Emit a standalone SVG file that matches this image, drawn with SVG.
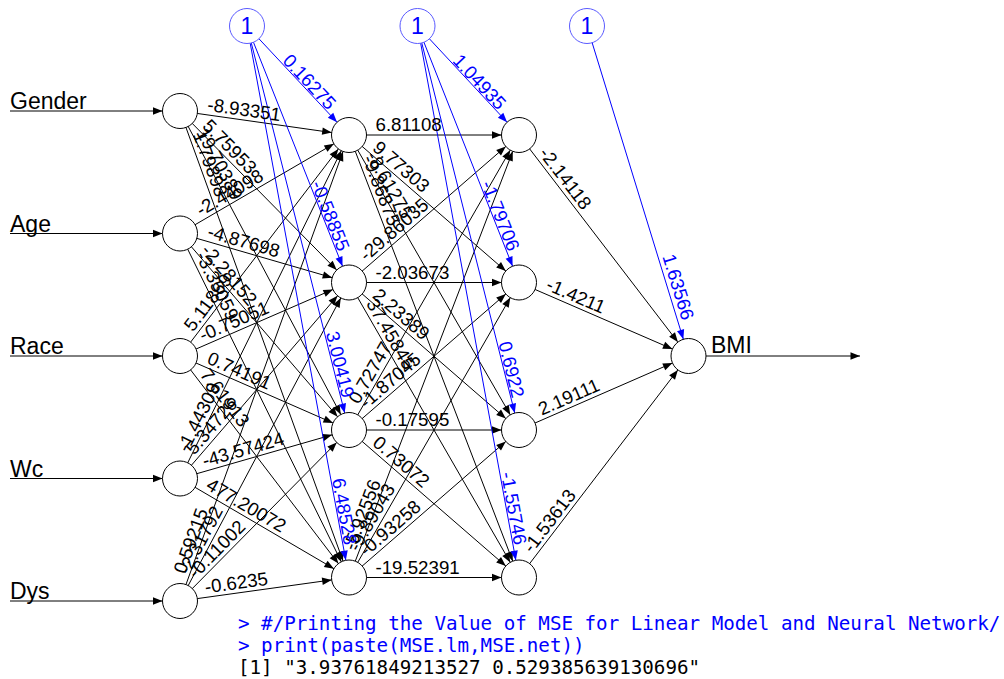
<svg xmlns="http://www.w3.org/2000/svg" width="1004" height="679" viewBox="0 0 1004 679">
<style>
.n{fill:#fff;stroke:#000;stroke-width:1}
.bn{fill:#fff;stroke:#5a5aff;stroke-width:1}
.e{stroke:#000;stroke-width:1;fill:none;marker-end:url(#ah)}
.eb{stroke:#0000ff;stroke-width:1;fill:none;marker-end:url(#ahb)}
.io{stroke:#000;stroke-width:1;fill:none;marker-end:url(#ah0)}
.w{font-family:"Liberation Sans",Arial,sans-serif;font-size:18.7px;fill:#000}
.wb{font-family:"Liberation Sans",Arial,sans-serif;font-size:18.7px;fill:#0000ff;text-anchor:end}
.lb{font-family:"Liberation Sans",Arial,sans-serif;font-size:23px;fill:#000}
.one{font-family:"Liberation Sans",Arial,sans-serif;font-size:23px;fill:#0000ff;text-anchor:middle}
.con{font-family:"DejaVu Sans Mono",monospace;font-size:19.2px}
</style>
<defs>
<marker id="ah" markerUnits="userSpaceOnUse" orient="auto" viewBox="-30 -6 32 12" markerWidth="32" markerHeight="12" refX="0" refY="0"><path d="M-27,-3.7 L-17.5,0 L-27,3.7 z" fill="#000"/></marker>
<marker id="ahb" markerUnits="userSpaceOnUse" orient="auto" viewBox="-30 -6 32 12" markerWidth="32" markerHeight="12" refX="0" refY="0"><path d="M-27,-3.7 L-17.5,0 L-27,3.7 z" fill="#0000ff"/></marker>
<marker id="ah0" markerUnits="userSpaceOnUse" orient="auto" viewBox="-11 -6 12 12" markerWidth="12" markerHeight="12" refX="0" refY="0"><path d="M-9.5,-3.7 L0,0 L-9.5,3.7 z" fill="#000"/></marker>
</defs>
<rect width="1004" height="679" fill="#fff"/>
<g id="connectors">
<line class="io" x1="10" y1="111" x2="162.5" y2="111"/>
<line class="io" x1="10" y1="233.5" x2="162.5" y2="233.5"/>
<line class="io" x1="10" y1="356" x2="162.5" y2="356"/>
<line class="io" x1="10" y1="478.5" x2="162.5" y2="478.5"/>
<line class="io" x1="10" y1="601" x2="162.5" y2="601"/>
<line class="io" x1="706" y1="356" x2="860" y2="356"/>
<g id="input-hidden1">
<line class="e" x1="180" y1="111" x2="349" y2="135"/>
<line class="e" x1="180" y1="111" x2="349" y2="282.5"/>
<line class="e" x1="180" y1="111" x2="349" y2="430"/>
<line class="e" x1="180" y1="111" x2="349" y2="577.5"/>
<line class="e" x1="180" y1="233.5" x2="349" y2="135"/>
<line class="e" x1="180" y1="233.5" x2="349" y2="282.5"/>
<line class="e" x1="180" y1="233.5" x2="349" y2="430"/>
<line class="e" x1="180" y1="233.5" x2="349" y2="577.5"/>
<line class="e" x1="180" y1="356" x2="349" y2="135"/>
<line class="e" x1="180" y1="356" x2="349" y2="282.5"/>
<line class="e" x1="180" y1="356" x2="349" y2="430"/>
<line class="e" x1="180" y1="356" x2="349" y2="577.5"/>
<line class="e" x1="180" y1="478.5" x2="349" y2="135"/>
<line class="e" x1="180" y1="478.5" x2="349" y2="282.5"/>
<line class="e" x1="180" y1="478.5" x2="349" y2="430"/>
<line class="e" x1="180" y1="478.5" x2="349" y2="577.5"/>
<line class="e" x1="180" y1="601" x2="349" y2="135"/>
<line class="e" x1="180" y1="601" x2="349" y2="282.5"/>
<line class="e" x1="180" y1="601" x2="349" y2="430"/>
<line class="e" x1="180" y1="601" x2="349" y2="577.5"/>
</g>
<g id="hidden1-hidden2">
<line class="e" x1="349" y1="135" x2="519" y2="135"/>
<line class="e" x1="349" y1="135" x2="519" y2="282.5"/>
<line class="e" x1="349" y1="135" x2="519" y2="430"/>
<line class="e" x1="349" y1="135" x2="519" y2="577.5"/>
<line class="e" x1="349" y1="282.5" x2="519" y2="135"/>
<line class="e" x1="349" y1="282.5" x2="519" y2="282.5"/>
<line class="e" x1="349" y1="282.5" x2="519" y2="430"/>
<line class="e" x1="349" y1="282.5" x2="519" y2="577.5"/>
<line class="e" x1="349" y1="430" x2="519" y2="135"/>
<line class="e" x1="349" y1="430" x2="519" y2="282.5"/>
<line class="e" x1="349" y1="430" x2="519" y2="430"/>
<line class="e" x1="349" y1="430" x2="519" y2="577.5"/>
<line class="e" x1="349" y1="577.5" x2="519" y2="135"/>
<line class="e" x1="349" y1="577.5" x2="519" y2="282.5"/>
<line class="e" x1="349" y1="577.5" x2="519" y2="430"/>
<line class="e" x1="349" y1="577.5" x2="519" y2="577.5"/>
</g>
<g id="hidden2-output">
<line class="e" x1="519" y1="135" x2="688.5" y2="356"/>
<line class="e" x1="519" y1="282.5" x2="688.5" y2="356"/>
<line class="e" x1="519" y1="430" x2="688.5" y2="356"/>
<line class="e" x1="519" y1="577.5" x2="688.5" y2="356"/>
</g>
<g id="bias-edges">
<line class="eb" x1="247" y1="26" x2="349" y2="135"/>
<line class="eb" x1="247" y1="26" x2="349" y2="282.5"/>
<line class="eb" x1="247" y1="26" x2="349" y2="430"/>
<line class="eb" x1="247" y1="26" x2="349" y2="577.5"/>
<line class="eb" x1="417.5" y1="26" x2="519" y2="135"/>
<line class="eb" x1="417.5" y1="26" x2="519" y2="282.5"/>
<line class="eb" x1="417.5" y1="26" x2="519" y2="430"/>
<line class="eb" x1="417.5" y1="26" x2="519" y2="577.5"/>
<line class="eb" x1="587" y1="26" x2="688.5" y2="356"/>
</g>
<g id="weight-labels">
<text class="w" transform="translate(206.2,114.7) rotate(8.08)" y="-4">-8.93351</text>
<text class="w" transform="translate(198.6,129.9) rotate(45.42)" y="-4">5.75953</text>
<text class="w" transform="translate(192.4,134.4) rotate(62.09)" y="-4">19.70389</text>
<text class="w" transform="translate(189.0,135.9) rotate(70.09)" y="-4">1.79898</text>
<text class="w" transform="translate(202.9,220.2) rotate(-30.23)" y="-4">-2.44098</text>
<text class="w" transform="translate(205.5,240.9) rotate(16.17)" y="-4">-4.87698</text>
<text class="w" transform="translate(197.3,253.6) rotate(49.30)" y="-4">-2.28152</text>
<text class="w" transform="translate(191.7,257.3) rotate(63.83)" y="-4">-3.35059</text>
<text class="w" transform="translate(196.1,334.9) rotate(-52.59)" y="-4">5.11869</text>
<text class="w" transform="translate(204.3,345.4) rotate(-23.50)" y="-4">-0.75051</text>
<text class="w" transform="translate(204.3,366.6) rotate(23.65)" y="-4">0.74191</text>
<text class="w" transform="translate(196.1,377.1) rotate(52.65)" y="-4">7.61913</text>
<text class="w" transform="translate(191.7,454.7) rotate(-63.80)" y="-4">-1.44309</text>
<text class="w" transform="translate(197.3,458.4) rotate(-49.23)" y="-4">5.34726</text>
<text class="w" transform="translate(205.5,471.2) rotate(-16.01)" y="-4">-43.57424</text>
<text class="w" transform="translate(202.9,491.9) rotate(30.36)" y="-4">477.20072</text>
<text class="w" transform="translate(189.0,576.1) rotate(-70.07)" y="-4">0.59215</text>
<text class="w" transform="translate(192.4,577.6) rotate(-62.05)" y="-4">-2.31792</text>
<text class="w" transform="translate(198.6,582.2) rotate(-45.33)" y="-4">-0.11002</text>
<text class="w" transform="translate(206.3,597.4) rotate(-7.92)" y="-4">-0.6235</text>
<text class="w" transform="translate(375.5,135) rotate(0)" y="-4">6.81108</text>
<text class="w" transform="translate(369,152.4) rotate(40.95)" y="-4">9.77303</text>
<text class="w" transform="translate(362.2,158.0) rotate(60.05)" y="-4">-8.61275</text>
<text class="w" transform="translate(358.5,159.7) rotate(69.0)" y="-4">-9.86875</text>
<text class="w" transform="translate(369,265.1) rotate(-40.95)" y="-4">-29.86035</text>
<text class="w" transform="translate(375.5,282.5) rotate(0)" y="-4">-2.03673</text>
<text class="w" transform="translate(369,299.9) rotate(40.95)" y="-4">2.23389</text>
<text class="w" transform="translate(362.2,305.5) rotate(60.05)" y="-4">37.45845</text>
<text class="w" transform="translate(362.2,407.0) rotate(-60.05)" y="-4">0.72747</text>
<text class="w" transform="translate(369,412.6) rotate(-40.95)" y="-4">-1.87045</text>
<text class="w" transform="translate(375.5,430) rotate(0)" y="-4">-0.17595</text>
<text class="w" transform="translate(369,447.4) rotate(40.95)" y="-4">0.73072</text>
<text class="w" transform="translate(358.5,552.8) rotate(-69.0)" y="-4">-5.92556</text>
<text class="w" transform="translate(362.2,554.5) rotate(-60.05)" y="-4">-9.89043</text>
<text class="w" transform="translate(369,560.1) rotate(-40.95)" y="-4">-0.93258</text>
<text class="w" transform="translate(375.5,577.5) rotate(0)" y="-4">-19.52391</text>
<text class="w" transform="translate(535.1,156.0) rotate(52.5)" y="-4">-2.14118</text>
<text class="w" transform="translate(543.3,293.0) rotate(23.45)" y="-4">-1.4211</text>
<text class="w" transform="translate(543.3,419.4) rotate(-23.58)" y="-4">2.19111</text>
<text class="w" transform="translate(535.1,556.5) rotate(-52.58)" y="-4">-1.53613</text>
<text class="wb" transform="translate(327.1,111.6) rotate(46.9)" y="-1">0.16275</text>
<text class="wb" transform="translate(337.2,252.8) rotate(68.31)" y="-1">-0.58855</text>
<text class="wb" transform="translate(341.2,399.0) rotate(75.83)" y="-1">3.00419</text>
<text class="wb" transform="translate(343.2,546.0) rotate(79.52)" y="-1">6.48528</text>
<text class="wb" transform="translate(497.1,111.6) rotate(46.9)" y="-1">1.04935</text>
<text class="wb" transform="translate(507.2,252.8) rotate(68.31)" y="-1">-1.79706</text>
<text class="wb" transform="translate(511.2,399.0) rotate(75.83)" y="-1">0.6922</text>
<text class="wb" transform="translate(513.2,546.0) rotate(79.52)" y="-1">-1.55746</text>
<text class="wb" transform="translate(681.1,321.4) rotate(72.9)" y="-1">1.63566</text>
</g>
</g>
<g id="node-gender"><circle class="n" cx="180" cy="111" r="17.5"/><text class="lb" x="10" y="109">Gender</text></g>
<g id="node-age"><circle class="n" cx="180" cy="233.5" r="17.5"/><text class="lb" x="10" y="231.5">Age</text></g>
<g id="node-race"><circle class="n" cx="180" cy="356" r="17.5"/><text class="lb" x="10" y="354">Race</text></g>
<g id="node-wc"><circle class="n" cx="180" cy="478.5" r="17.5"/><text class="lb" x="10" y="476.5">Wc</text></g>
<g id="node-dys"><circle class="n" cx="180" cy="601" r="17.5"/><text class="lb" x="10" y="599">Dys</text></g>
<g id="node-h1-1"><circle class="n" cx="349" cy="135" r="17.5"/></g>
<g id="node-h1-2"><circle class="n" cx="349" cy="282.5" r="17.5"/></g>
<g id="node-h1-3"><circle class="n" cx="349" cy="430" r="17.5"/></g>
<g id="node-h1-4"><circle class="n" cx="349" cy="577.5" r="17.5"/></g>
<g id="node-h2-1"><circle class="n" cx="519" cy="135" r="17.5"/></g>
<g id="node-h2-2"><circle class="n" cx="519" cy="282.5" r="17.5"/></g>
<g id="node-h2-3"><circle class="n" cx="519" cy="430" r="17.5"/></g>
<g id="node-h2-4"><circle class="n" cx="519" cy="577.5" r="17.5"/></g>
<g id="node-bmi"><circle class="n" cx="688.5" cy="356" r="17.5"/><text class="lb" x="711" y="353">BMI</text></g>
<g id="bias-1"><circle class="bn" cx="247" cy="26" r="17.5"/><text class="one" x="247" y="34">1</text></g>
<g id="bias-2"><circle class="bn" cx="417.5" cy="26" r="17.5"/><text class="one" x="417.5" y="34">1</text></g>
<g id="bias-3"><circle class="bn" cx="587" cy="26" r="17.5"/><text class="one" x="587" y="34">1</text></g>
<g id="console">
<text class="con" x="238" y="630" fill="#0000ff" xml:space="preserve">&gt; #/Printing the Value of MSE for Linear Model and Neural Network/</text>
<text class="con" x="238" y="652" fill="#0000ff" xml:space="preserve">&gt; print(paste(MSE.lm,MSE.net))</text>
<text class="con" x="238" y="674" fill="#000" xml:space="preserve">[1] "3.93761849213527 0.529385639130696"</text>
</g>
</svg>
